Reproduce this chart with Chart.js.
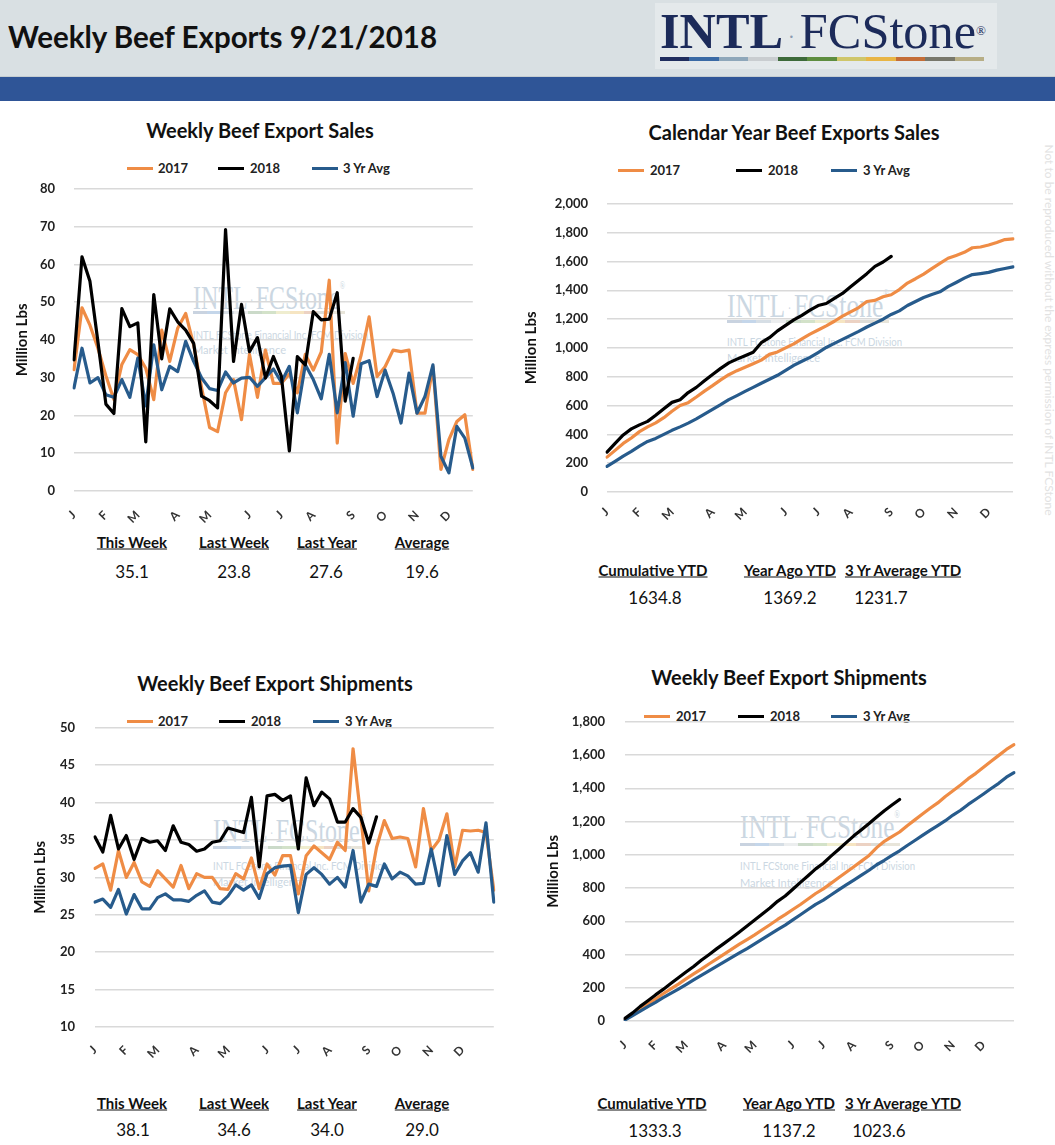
<!DOCTYPE html>
<html><head><meta charset="utf-8">
<script src="https://cdn.jsdelivr.net/npm/chart.js"></script>
<style>
html,body{margin:0;padding:0}
body{width:1055px;height:1145px;position:relative;background:#fff;overflow:hidden;font-family:Lato,'Noto Sans',sans-serif;color:#111}
.a{position:absolute;white-space:nowrap}
.cc{transform:translate(-50%,-50%);line-height:1}
.lc{transform:translate(0,-50%);line-height:1}
.ttl{font-weight:700;font-size:20px;color:#111}
.lg{font-weight:700;font-size:13px;color:#222}
.sh{font-weight:700;font-size:15px;text-decoration:underline;color:#111}
.sv{font-size:17px;color:#111}
.wm{color:#cbd7e2;font-family:'Liberation Serif',serif;line-height:1;transform-origin:left center}
.wms{color:#cbd7e2;font-size:11px;line-height:1;transform-origin:left center}
canvas{position:absolute}
</style></head><body>

<div class="a" style="left:0;top:0;width:1055px;height:76px;background:#d9e0e3;border-bottom:1px solid #c5cdd1"></div>
<div class="a" id="hdrTitle" style="left:8px;top:21px;font-weight:700;font-size:30px;line-height:30px;color:#111;transform-origin:left center">Weekly Beef Exports 9/21/2018</div>
<div class="a" style="left:655px;top:3px;width:342px;height:66px;background:#e4e9eb"></div>
<div class="a" id="logo" style="left:660px;top:6px;font-family:'Liberation Serif',serif;font-size:50px;line-height:50px;color:#1c2b5a;transform-origin:left center"><span style="font-weight:700">INTL</span><span style="color:#8a9bb0;font-size:20px;vertical-align:middle"> · </span><span>FCStone</span><span style="font-size:13px;vertical-align:top">®</span></div>
<div class="a" id="logoBar" style="left:660px;top:57px;height:4px;width:324px;display:flex"></div>
<div class="a" style="left:0;top:77px;width:1055px;height:24px;background:#2f5597"></div>
<div class="a" style="left:1049px;top:330px;transform:translate(-50%,-50%) rotate(90deg);font-size:12px;color:#e2e2e2">Not to be reproduced without the express permission of INTL FCStone</div>

<!-- watermarks -->
<div id="wmLayer"></div>

<!-- titles -->
<div class="a cc ttl" style="left:260px;top:130px">Weekly Beef Export Sales</div>
<div class="a cc ttl" style="left:794px;top:132px">Calendar Year Beef Exports Sales</div>
<div class="a cc ttl" style="left:275px;top:683px">Weekly Beef Export Shipments</div>
<div class="a cc ttl" style="left:789px;top:677px">Weekly Beef Export Shipments</div>

<div id="legendLayer"></div>

<!-- stats -->
<div class="a cc sh" style="left:132px;top:542px">This Week</div>
<div class="a cc sh" style="left:234px;top:542px">Last Week</div>
<div class="a cc sh" style="left:327px;top:542px">Last Year</div>
<div class="a cc sh" style="left:422px;top:542px">Average</div>
<div class="a cc sv" style="left:132px;top:571px">35.1</div>
<div class="a cc sv" style="left:234px;top:571px">23.8</div>
<div class="a cc sv" style="left:326px;top:571px">27.6</div>
<div class="a cc sv" style="left:422px;top:571px">19.6</div>

<div class="a cc sh" style="left:653px;top:570px">Cumulative YTD</div>
<div class="a cc sh" style="left:790px;top:570px">Year Ago YTD</div>
<div class="a cc sh" style="left:903px;top:570px">3 Yr Average YTD</div>
<div class="a cc sv" style="left:655px;top:597px">1634.8</div>
<div class="a cc sv" style="left:790px;top:597px">1369.2</div>
<div class="a cc sv" style="left:881px;top:597px">1231.7</div>

<div class="a cc sh" style="left:132px;top:1103px">This Week</div>
<div class="a cc sh" style="left:234px;top:1103px">Last Week</div>
<div class="a cc sh" style="left:327px;top:1103px">Last Year</div>
<div class="a cc sh" style="left:422px;top:1103px">Average</div>
<div class="a cc sv" style="left:133px;top:1129px">38.1</div>
<div class="a cc sv" style="left:234px;top:1129px">34.6</div>
<div class="a cc sv" style="left:327px;top:1129px">34.0</div>
<div class="a cc sv" style="left:422px;top:1129px">29.0</div>

<div class="a cc sh" style="left:652px;top:1103px">Cumulative YTD</div>
<div class="a cc sh" style="left:789px;top:1103px">Year Ago YTD</div>
<div class="a cc sh" style="left:903px;top:1103px">3 Yr Average YTD</div>
<div class="a cc sv" style="left:655px;top:1130px">1333.3</div>
<div class="a cc sv" style="left:789px;top:1130px">1137.2</div>
<div class="a cc sv" style="left:879px;top:1130px">1023.6</div>

<canvas id="cTL" width="500" height="368" style="left:0;top:162px"></canvas>
<canvas id="cTR" width="545" height="358" style="left:510px;top:177px"></canvas>
<canvas id="cBL" width="520" height="368" style="left:0;top:700px"></canvas>
<canvas id="cBR" width="530" height="368" style="left:525px;top:694px"></canvas>

<script>
// ---------------- DATA ----------------
const seriesNames = ['2017', '2018', '3 Yr Avg'];
const monthLetters = ['J','F','M','A','M','J','J','A','S','O','N','D'];
const monthStartWeek = [0, 4, 8, 13, 17, 22, 26, 30, 35, 39, 43, 47];

// Weekly Beef Export Sales (million lbs)
const salesWeekly2017 = [32.1, 48.5, 43.9, 37.8, 30.5, 24.2, 33.5, 37.4, 36.1, 32.5,
  24.2, 42.6, 34.3, 43.1, 47, 38.7, 27.3, 16.8, 15.7, 26,
  29.5, 18.9, 36.2, 24.8, 37.3, 28.5, 28.5, 31, 26, 36.2,
  32, 36.8, 55.8, 12.7, 36.4, 28.5, 36, 46.1, 30.3, 32.9,
  37.3, 36.9, 37.3, 20.6, 20.6, 32.9, 5.7, 13.6, 18.4, 20.2, 5.7];
const salesWeekly2018 = [34.7, 62, 55.5, 39.5, 23, 20.5, 48.3, 43.5, 44.5, 13,
  52, 35, 48.2, 44.8, 42.6, 39.1, 25.1, 23.9, 22, 69.2,
  34.3, 49.4, 36.9, 40.6, 29.9, 35.6, 30.4, 10.6, 35.6, 33.4,
  47.5, 45.3, 45.5, 52.5, 23.8, 35.1];
const salesWeeklyAvg = [27.3, 37.8, 28.6, 30, 25.5, 24.8, 29.5, 24.8, 35.2, 22.5,
  38.7, 26.8, 33, 31.6, 39.6, 34.3, 29.9, 27.1, 26.6, 31.5,
  28.6, 29.9, 30.1, 27.7, 30, 32.3, 28.8, 33, 20.7, 33.4,
  29.5, 24.4, 36.2, 20.7, 34, 19.8, 33.7, 34.5, 25, 32,
  25.9, 18, 31.2, 20.6, 25, 33.4, 9.2, 4.8, 17.1, 14, 6.1];

// Calendar Year Beef Export Sales, cumulative (million lbs)
const salesCum2017 = [242, 289, 337, 375, 419, 452, 480, 516, 560, 600,
  620, 659, 700, 738, 778, 814, 842, 866, 890, 915,
  955, 972, 1000, 1028, 1063, 1096, 1124, 1153, 1185, 1220,
  1250, 1280, 1322, 1330, 1355, 1369, 1405, 1450, 1480, 1512,
  1550, 1586, 1622, 1642, 1663, 1695, 1700, 1714, 1732, 1752, 1757];
const salesCum2018 = [277, 338, 396, 438, 466, 490, 532, 578, 622, 640,
  690, 726, 772, 816, 858, 896, 922, 946, 970, 1036,
  1071, 1118, 1156, 1194, 1226, 1262, 1294, 1308, 1344, 1378,
  1425, 1470, 1515, 1566, 1596, 1635];
const salesCumAvg = [178, 213, 249, 282, 318, 351, 372, 400, 428, 452,
  478, 507, 540, 573, 606, 641, 669, 698, 726, 755,
  782, 810, 844, 879, 907, 934, 968, 1003, 1031, 1059,
  1087, 1115, 1145, 1172, 1199, 1232, 1257, 1294, 1322, 1350,
  1371, 1389, 1425, 1454, 1484, 1509, 1516, 1524, 1540, 1551, 1562];

// Weekly Beef Export Shipments (million lbs)
const shipWeekly2017 = [31.2, 31.8, 28.3, 33.6, 30, 32, 29.4, 28.8, 30.9, 29.8,
  28.7, 31.6, 28.5, 30.5, 30, 30, 28.5, 28.4, 30.5, 29.8,
  32.6, 28.5, 31.8, 30.3, 32.9, 32.9, 27.8, 32.9, 34.2, 33.3,
  32.4, 34.7, 33.6, 47.2, 38, 28.2, 34, 37.6, 35.2, 35.4,
  35.2, 31.4, 39.2, 33.6, 35, 38.5, 31.4, 36.3, 36.2, 36.3, 36, 28.3];
const shipWeekly2018 = [35.4, 33.4, 38.3, 33.8, 35.6, 32.4, 35.2, 34.7, 34.9, 33.6,
  36.9, 34.7, 34.4, 33.5, 33.8, 34.7, 34.9, 36.6, 36.3, 36,
  40.7, 31.4, 40.9, 41.1, 40.3, 40.9, 33.8, 43.3, 39.6, 41.4,
  40.5, 37.4, 37.4, 39.2, 38, 34.6, 38.1];
const shipWeeklyAvg = [26.7, 27.1, 26, 28.4, 25.1, 27.7, 25.8, 25.8, 27.3, 27.8,
  27, 27, 26.8, 27.6, 28.2, 26.7, 26.5, 27.5, 29, 28.3,
  29, 27.2, 30.5, 31.3, 31.5, 31.6, 25.3, 30.4, 31.3, 30.4,
  29.1, 30, 28.7, 33.6, 26.7, 29.1, 28.8, 31.8, 29.8, 30.7,
  30.2, 29.1, 29.2, 33.8, 28.9, 35.6, 30.4, 32.2, 33.3, 30.7, 37.3, 26.7];

// Weekly Beef Export Shipments, cumulative (million lbs)
const shipCum2017 = [8, 40, 68, 102, 132, 164, 193, 222, 253, 283,
  312, 343, 372, 402, 432, 462, 490, 518, 549, 579,
  611, 640, 671, 701, 734, 767, 795, 828, 862, 895,
  928, 962, 996, 1043, 1081, 1109, 1137, 1175, 1210, 1245,
  1280, 1312, 1351, 1385, 1420, 1458, 1490, 1526, 1562, 1598, 1634, 1662];
const shipCum2018 = [16, 49, 88, 122, 157, 190, 225, 260, 295, 328,
  365, 399, 434, 467, 501, 536, 571, 607, 644, 680,
  720, 752, 793, 834, 874, 915, 949, 992, 1032, 1073,
  1114, 1151, 1188, 1227, 1265, 1299, 1333];
const shipCumAvg = [6, 33, 59, 87, 112, 140, 166, 192, 219, 247,
  274, 301, 328, 355, 383, 410, 436, 464, 493, 521,
  550, 577, 608, 639, 671, 702, 727, 758, 789, 819,
  848, 878, 907, 940, 967, 996, 1024, 1056, 1086, 1117,
  1147, 1176, 1205, 1239, 1268, 1303, 1334, 1366, 1399, 1430, 1467, 1494];

// ---------------- STYLE ----------------
const COLORS = ['#ef8c45', '#000000', '#275b8c'];
Chart.defaults.font.family = 'Lato';
Chart.defaults.color = '#222';

function weekLabels(n) { return Array.from({length: n}, (_, i) => 'W' + (i + 1)); }

function makeChart(id, o) {
  const labels = weekLabels(o.series[0].length);
  new Chart(document.getElementById(id), {
    type: 'line',
    data: {
      labels,
      datasets: o.series.map((d, k) => ({
        label: seriesNames[k], data: d, borderColor: COLORS[k], backgroundColor: COLORS[k],
        borderWidth: 3.2, pointRadius: 0, tension: 0, fill: false,
        borderJoinStyle: 'round', borderCapStyle: 'round', order: k === 1 ? 0 : (k === 0 ? 2 : 1)
      }))
    },
    options: {
      responsive: false, animation: false, maintainAspectRatio: false,
      layout: {padding: {top: o.padTop, right: o.padRight, left: 0, bottom: 0}},
      plugins: {legend: {display: false}, title: {display: false}, tooltip: {enabled: false}},
      scales: {
        x: {
          type: 'category', offset: false,
          grid: {display: false, drawTicks: false}, border: {display: false},
          ticks: {autoSkip: false, maxRotation: 45, minRotation: 45, padding: o.xPad,
            font: {size: 12, weight: 'bold'}, color: '#333',
            callback: (v, i) => { const k = monthStartWeek.indexOf(i); return k >= 0 ? monthLetters[k] : ''; }},
          afterFit: s => { s.height = o.xh; }
        },
        y: {
          min: o.min, max: o.max,
          grid: {color: '#d9d9d9', lineWidth: 1.5, drawTicks: false}, border: {display: false},
          ticks: {stepSize: o.step, padding: o.yPad, font: {size: 13, weight: 'bold'}, color: '#222',
            callback: v => o.comma ? Number(v).toLocaleString('en-US') : v},
          title: {display: true, text: 'Million Lbs', font: {size: 15, weight: 'bold'}, color: '#111',
            padding: {top: o.titlePad, bottom: 0}},
          afterFit: s => { s.width = o.yw; }
        }
      }
    }
  });
}

makeChart('cTL', {series: [salesWeekly2017, salesWeekly2018, salesWeeklyAvg], min: 0, max: 80, step: 10,
  yw: 74, padTop: 8, padRight: 20, xh: 39, yPad: 19, xPad: 17, titlePad: 13});
makeChart('cTR', {series: [salesCum2017, salesCum2018, salesCumAvg], min: 0, max: 2000, step: 200, comma: true,
  yw: 97, padTop: 8, padRight: 42, xh: 43, yPad: 19, xPad: 13, titlePad: 12});
makeChart('cBL', {series: [shipWeekly2017, shipWeekly2018, shipWeeklyAvg], min: 10, max: 50, step: 5,
  yw: 95, padTop: 9, padRight: 20, xh: 41, yPad: 20, xPad: 16, titlePad: 31});
makeChart('cBR', {series: [shipCum2017, shipCum2018, shipCumAvg], min: 0, max: 1800, step: 200, comma: true,
  yw: 100, padTop: 9, padRight: 41, xh: 41, yPad: 20, xPad: 17, titlePad: 19});

// ---------------- legends ----------------
const legends = [
  {y: 168, items: [[127, 158], [218, 250], [312, 343]]},
  {y: 170, items: [[618, 650], [736, 768], [831, 863]]},
  {y: 721, items: [[127, 158], [219, 251], [313, 345]]},
  {y: 716, items: [[644, 676], [738, 770], [831, 863]]}
];
const LL = document.getElementById('legendLayer');
legends.forEach(L => L.items.forEach(([lx, tx], k) => {
  const sw = document.createElement('div');
  sw.className = 'a';
  sw.style.cssText = `left:${lx}px;top:${L.y - 1.5}px;width:26px;height:3px;background:${COLORS[k]}`;
  LL.appendChild(sw);
  const t = document.createElement('div');
  t.className = 'a lc lg';
  t.style.left = tx + 'px'; t.style.top = L.y + 'px';
  t.textContent = seriesNames[k];
  LL.appendChild(t);
}));

// ---------------- header logo bar & watermarks ----------------
const barColors = ['#1f2d5e', '#3a6aa5', '#8ea7ba', '#c9cdd0', '#3d6a3a', '#5d8d3f', '#cfc66a', '#e8b545', '#c46d37', '#77776b', '#b7ae86'];
const bar = document.getElementById('logoBar');
barColors.forEach(c => { const s = document.createElement('div'); s.style.cssText = `flex:1;background:${c}`; bar.appendChild(s); });

function fitW(el, w) { const r = el.getBoundingClientRect().width; el.style.transform = `scaleX(${w / r})`; }
fitW(document.getElementById('hdrTitle'), 429);
fitW(document.getElementById('logo'), 326);

const wms = [
  {x: 193, y: 281, w: 152, bar: 311, l1: 335, l2: 350},
  {x: 727, y: 289, w: 162, bar: 320, l1: 342, l2: 358},
  {x: 213, y: 814, w: 152, bar: 846, l1: 866, l2: 882},
  {x: 740, y: 810, w: 160, bar: 843, l1: 866, l2: 883}
];
const WL = document.getElementById('wmLayer');
const fade = ['#c9d3e0', '#c4d6ea', '#d6dee5', '#eceeef', '#cbdac9', '#d3e2c9', '#efedcf', '#f6e5c2', '#ecd2c3', '#dcdcd7', '#e8e5da'];
wms.forEach(m => {
  const t = document.createElement('div');
  t.className = 'a wm'; t.style.left = m.x + 'px'; t.style.top = m.y + 'px'; t.style.fontSize = '34px';
  t.innerHTML = 'INTL<span style="font-size:14px;vertical-align:middle"> · </span>FCStone<span style="font-size:10px;vertical-align:top">®</span>';
  WL.appendChild(t); fitW(t, m.w);
  const b = document.createElement('div');
  b.className = 'a'; b.style.cssText = `left:${m.x}px;top:${m.bar}px;width:${m.w}px;height:3px;display:flex`;
  fade.forEach(c => { const s = document.createElement('div'); s.style.cssText = `flex:1;background:${c}`; b.appendChild(s); });
  WL.appendChild(b);
  const a1 = document.createElement('div');
  a1.className = 'a wms'; a1.style.left = m.x + 'px'; a1.style.top = (m.l1 - 6) + 'px';
  a1.textContent = 'INTL FCStone Financial Inc. FCM Division';
  WL.appendChild(a1); fitW(a1, 175);
  const a2 = document.createElement('div');
  a2.className = 'a wms'; a2.style.left = m.x + 'px'; a2.style.top = (m.l2 - 6) + 'px';
  a2.textContent = 'Market Intelligence';
  WL.appendChild(a2); fitW(a2, 93);
});
</script>
</body></html>
